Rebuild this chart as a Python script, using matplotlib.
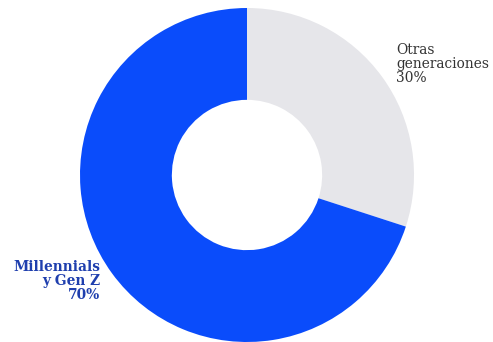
import matplotlib
matplotlib.use("Agg")
import matplotlib.pyplot as plt

labels = ["Otras\ngeneraciones\n30%", "Millennials\ny Gen Z\n70%"]
values = [30, 70]
colors = ["#e6e6ea", "#0a4cfb"]

W, H = 493, 342
fig = plt.figure(figsize=(W/100, H/100), dpi=100)
cx, cy, r = 247, 175, 167
ax = fig.add_axes([(cx - r)/W, (H - cy - r)/H, 2*r/W, 2*r/H])
ax.pie(values, colors=colors, startangle=90, counterclock=False,
       wedgeprops=dict(width=0.55, edgecolor="none"), radius=1.0)
ax.set_xlim(-1, 1); ax.set_ylim(-1, 1)
ax.set_aspect("equal")
ax.axis("off")

fig.text(396/W, 1 - 43/H, labels[0], ha="left", va="top", fontsize=9.9,
         family="DejaVu Serif", color="#333333", linespacing=0.98)
fig.text(100/W, 1 - 260/H, labels[1], ha="right", va="top", fontsize=9.9,
         family="DejaVu Serif", color="#1f3fae", fontweight="bold", linespacing=0.98)

fig.savefig("out.png", dpi=100)
